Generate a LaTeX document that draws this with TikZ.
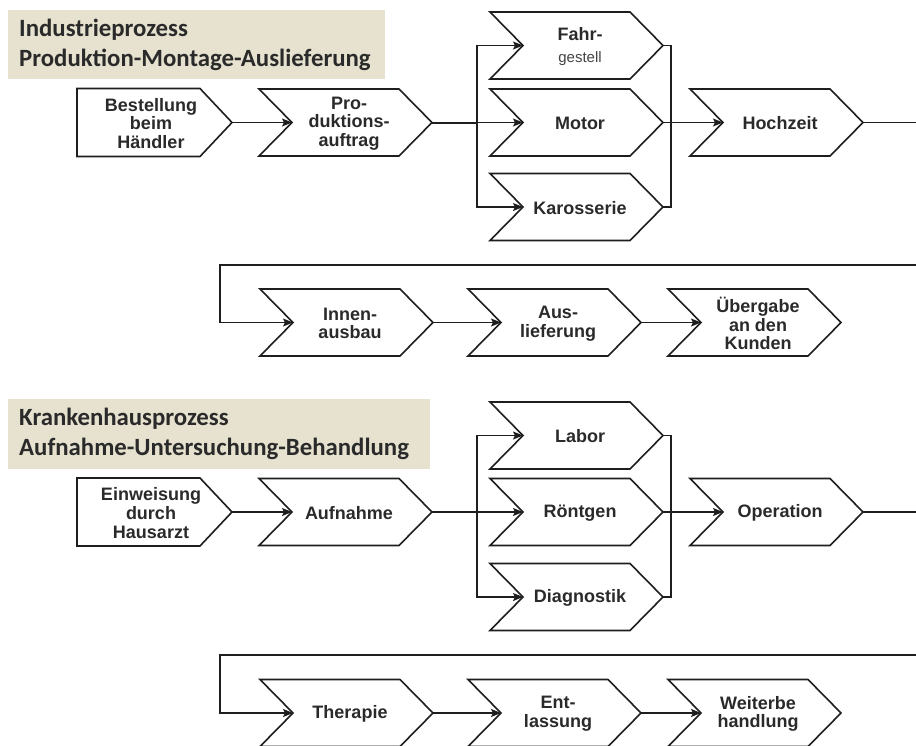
\documentclass[tikz,border=0pt]{standalone}
\usepackage{fontspec}
\setmainfont{Liberation Sans}
\newfontfamily\titlefont{Carlito}
\usetikzlibrary{arrows.meta}
\definecolor{beige}{HTML}{E6E2CF}
\definecolor{ink}{HTML}{2A2A2A}
\definecolor{edge}{HTML}{1E1E1E}
\tikzset{
  shp/.style={draw=edge, line width=1.6pt, fill=white, line join=miter},
  txt/.style={align=center, text=ink, inner sep=0pt,
    font=\fontsize{18}{18.7}\selectfont\bfseries},
  conn/.style={draw=edge, line width=1.3pt},
  arr/.style={conn, -{Stealth[length=10pt,width=8pt,inset=2pt]}},
  ttl/.style={fill=beige, anchor=north west, align=left, inner xsep=11pt, inner ysep=0pt,
    text=ink, font=\titlefont\fontsize{24.8}{30}\selectfont\bfseries}
}
% chevron: name, left x, centre y, text
\newcommand\chev[4]{%
  \draw[shp] (#2,#3-33.5) -- (#2+140,#3-33.5) -- (#2+173,#3) -- (#2+140,#3+33.5)
     -- (#2,#3+33.5) -- (#2+33,#3) -- cycle;
  \coordinate (#1-in) at (#2+33,#3);
  \coordinate (#1-out) at (#2+173,#3);
  \node[txt] (#1) at (#2+90,#3+1) {#4};}
% first box (flat left side)
\newcommand\pent[4]{%
  \draw[shp] (#2,#3-34) -- (#2+123,#3-34) -- (#2+155,#3) -- (#2+123,#3+34)
     -- (#2,#3+34) -- cycle;
  \coordinate (#1-out) at (#2+155,#3);
  \node[txt] (#1) at (#2+74,#3+1) {#4};}
\begin{document}
\begin{tikzpicture}[x=1pt,y=-1pt]
\fill[white] (0,0) rectangle (916,745);
\useasboundingbox (0,0) rectangle (916,745);

% ---------- Industrieprozess ----------
\node[ttl, text width=355pt, minimum height=69pt] (t1) at (8,10)
  {Industrieprozess\\Produktion-Montage-Auslieferung};

\pent{best}{77}{122.5}{Bestellung\\beim\\Händler}
\chev{prod}{259}{122.5}{Pro-\\duktions-\\auftrag}
\chev{fahr}{490}{45.5}{Fahr-\\[4pt]{\fontsize{15}{15}\selectfont\mdseries\color[HTML]{444444}gestell}}
\chev{motor}{490}{122.5}{Motor}
\chev{karo}{490}{207}{Karosserie}
\chev{hoch}{690}{122.5}{Hochzeit}

\coordinate (s1) at (477,122.5);
\coordinate (m1) at (671,122.5);
\coordinate (e1) at (916,122.5);
\draw[arr] (best-out) -- (prod-in);
\draw[conn, line width=2pt] (prod-out) -- (s1);
\draw[arr] (s1) |- (fahr-in);
\draw[arr] (s1) -- (motor-in);
\draw[arr] (s1) |- (karo-in);
\draw[conn] (fahr-out) -| (m1);
\draw[conn] (karo-out) -| (m1);
\draw[arr] (motor-out) -- (hoch-in);
\draw[conn] (hoch-out) -- (e1);

\chev{innen}{260}{322.5}{Innen-\\ausbau}
\chev{ausl}{468}{322.5}{Aus-\\lieferung}
\chev{ueber}{668}{322.5}{Übergabe\\an den\\Kunden}
\coordinate (e2) at (916,265);
\coordinate (w2) at (220,265);
\draw[arr] (e2) -- (w2) |- (innen-in);
\draw[arr] (innen-out) -- (ausl-in);
\draw[arr] (ausl-out) -- (ueber-in);

% ---------- Krankenhausprozess ----------
\node[ttl, text width=400pt, minimum height=70pt] (t2) at (8,399)
  {Krankenhausprozess\\Aufnahme-Untersuchung-Behandlung};

\pent{einw}{77}{512}{Einweisung\\durch\\Hausarzt}
\chev{aufn}{259}{512}{Aufnahme}
\chev{labor}{490}{435.5}{Labor}
\chev{roent}{490}{512}{Röntgen}
\chev{diag}{490}{597}{Diagnostik}
\chev{oper}{690}{512}{Operation}

\coordinate (s3) at (477,512);
\coordinate (m3) at (671,512);
\coordinate (e3) at (916,512);
\draw[arr] (einw-out) -- (aufn-in);
\draw[conn, line width=2pt] (aufn-out) -- (s3);
\draw[arr] (s3) |- (labor-in);
\draw[arr] (s3) -- (roent-in);
\draw[arr] (s3) |- (diag-in);
\draw[conn] (labor-out) -| (m3);
\draw[conn] (diag-out) -| (m3);
\draw[arr] (roent-out) -- (oper-in);
\draw[conn] (oper-out) -- (e3);

\chev{ther}{260}{713}{Therapie}
\chev{entl}{468}{713}{Ent-\\lassung}
\chev{weit}{668}{713}{Weiterbe\\handlung}
\coordinate (e4) at (916,655);
\coordinate (w4) at (220,655);
\draw[arr] (e4) -- (w4) |- (ther-in);
\draw[arr] (ther-out) -- (entl-in);
\draw[arr] (entl-out) -- (weit-in);
\end{tikzpicture}
\end{document}
